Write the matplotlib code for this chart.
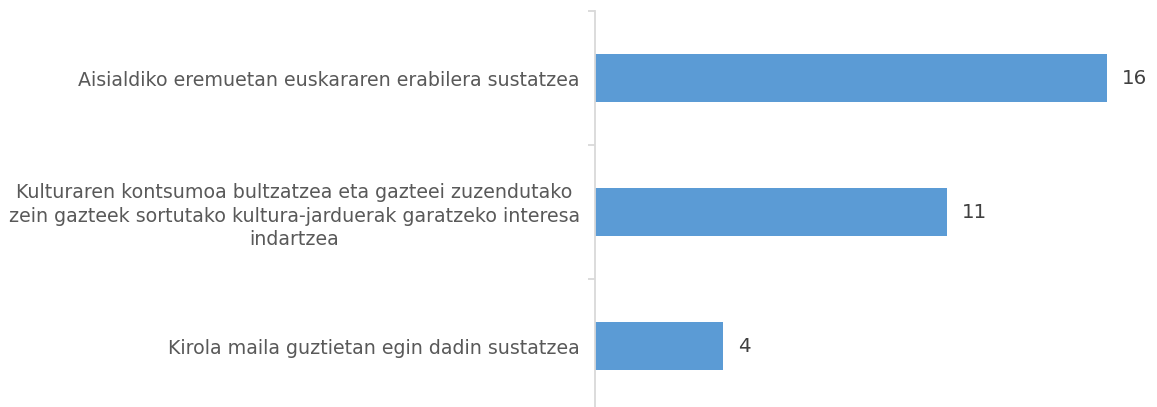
import matplotlib
matplotlib.use("Agg")
import matplotlib.pyplot as plt

categories = [
    "Aisialdiko eremuetan euskararen erabilera sustatzea",
    "Kulturaren kontsumoa bultzatzea eta gazteei zuzendutako\nzein gazteek sortutako kultura-jarduerak garatzeko interesa\nindartzea",
    "Kirola maila guztietan egin dadin sustatzea",
]
values = [16, 11, 4]

W, H = 1157, 407
fig = plt.figure(figsize=(W / 100, H / 100), dpi=100)
left_px, right_px, top_px, bottom_px = 595, 1155, 11, 413
ax = fig.add_axes([left_px / W, 1 - bottom_px / H, (right_px - left_px) / W, (bottom_px - top_px) / H])

ypos = list(range(len(categories)))
ax.barh(ypos, values, height=0.36, color="#5B9BD5", zorder=2)
ax.set_ylim(2.5, -0.5)
ax.set_xlim(0, (right_px - left_px) / 32.0)

for y, v in zip(ypos, values):
    ax.annotate(str(v), xy=(v, y), xytext=(11, 0), textcoords="offset points",
                va="center", ha="left", fontsize=14.3, color="#404040")

ax.set_yticks(ypos)
ax.set_yticklabels(categories, fontsize=13.7, color="#595959", linespacing=1.3,
                   ha="right", multialignment="center")
ax.tick_params(axis="y", which="major", length=0, pad=11)
ax.set_yticks([-0.5, 0.5, 1.5, 2.5], minor=True)
ax.tick_params(axis="y", which="minor", length=5, color="#d9d9d9", width=1.3)

ax.set_xticks([])
for s in ["top", "right", "bottom"]:
    ax.spines[s].set_visible(False)
ax.spines["left"].set_color("#d9d9d9")
ax.spines["left"].set_linewidth(1.3)

fig.savefig("out.png", dpi=100)
